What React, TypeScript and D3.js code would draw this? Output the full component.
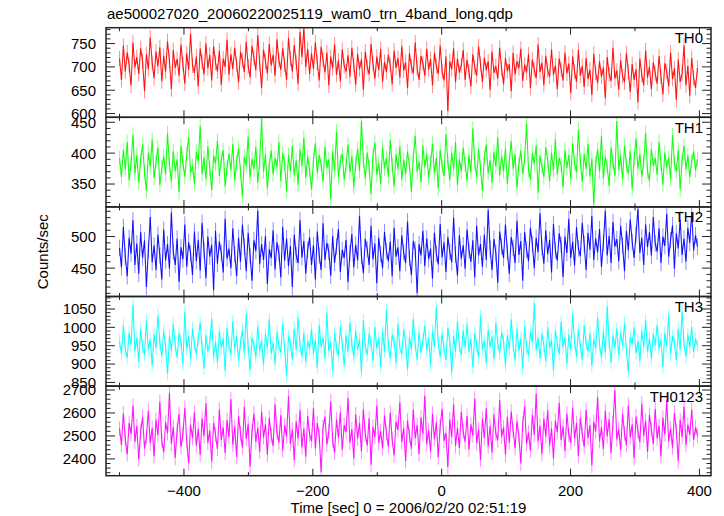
import React from "react";
import * as d3 from "d3";

const TITLE = "ae500027020_20060220025119_wam0_trn_4band_long.qdp";
const X_LABEL = "Time [sec] 0 = 2006/02/20 02:51:19";
const Y_LABEL = "Counts/sec";
const T_START = -500;
const T_BIN = 2.98;
const X_TICKS = [-400, -200, 0, 200, 400];

const TH0 = [
718, 672, 745, 690, 731, 704, 660, 752, 699, 721, 685, 740, 712, 648, 727, 695, 763, 708, 676, 733,
701, 742, 669, 724, 690, 755, 713, 652, 736, 698, 717, 681, 748, 706, 664, 729, 694, 771, 703, 687,
722, 658, 739, 711, 684, 750, 697, 726, 671, 744, 709, 690, 735, 662, 718, 700, 758, 683, 727, 695,
741, 706, 667, 732, 714, 689, 754, 701, 678, 745, 719, 693, 768, 708, 655, 737, 712, 686, 749, 703,
726, 681, 759, 714, 694, 740, 705, 672, 762, 718, 690, 747, 710, 664, 775, 721, 783, 700, 738, 685,
729, 696, 752, 709, 671, 743, 715, 688, 731, 660, 722, 697, 748, 683, 714, 669, 737, 702, 690, 725,
679, 741, 704, 662, 728, 695, 716, 651, 733, 700, 684, 749, 707, 675, 722, 693, 738, 668, 711, 689,
726, 704, 663, 735, 698, 719, 677, 744, 692, 710, 655, 729, 701, 686, 752, 697, 672, 723, 708, 681,
739, 694, 717, 660, 730, 702, 685, 746, 690, 671, 722, 605, 712, 695, 740, 667, 718, 688, 703, 736,
672, 715, 690, 658, 727, 699, 681, 744, 706, 668, 720, 693, 712, 650, 733, 687, 702, 675, 741, 696,
663, 719, 691, 706, 648, 730, 684, 712, 697, 739, 670, 705, 688, 727, 655, 716, 694, 676, 748, 689,
709, 661, 724, 692, 679, 737, 683, 703, 652, 718, 695, 671, 731, 686, 707, 644, 722, 690, 668, 736,
681, 702, 657, 719, 674, 694, 640, 728, 688, 665, 712, 679, 699, 633, 721, 684, 670, 741, 675, 692,
651, 714, 680, 667, 729, 689, 646, 706, 672, 695, 624, 718, 683, 661, 735, 677, 700, 652, 710, 686,
664, 723, 679, 641, 708, 690, 658, 731, 674, 697, 629, 716, 668, 685, 746, 661, 702, 638, 719, 676,
655, 698];

const TH1 = [
392, 361, 405, 374, 418, 356, 383, 430, 367, 397, 352, 388, 414, 370, 339, 401, 378, 422, 360, 386,
409, 348, 376, 395, 365, 432, 381, 354, 403, 371, 390, 337, 412, 384, 362, 398, 426, 368, 379, 351,
402, 387, 444, 366, 393, 358, 411, 375, 340, 396, 383, 420, 363, 389, 405, 346, 377, 399, 372, 415,
356, 385, 408, 369, 330, 394, 380, 427, 361, 391, 374, 410, 352, 386, 456, 370, 398, 343, 381, 404,
366, 392, 377, 418, 355, 400, 383, 338, 397, 371, 412, 364, 388, 349, 406, 379, 425, 360, 394, 373,
341, 389, 416, 368, 397, 382, 354, 410, 376, 390, 326, 403, 372, 435, 361, 386, 399, 357, 380, 414,
369, 395, 345, 383, 407, 371, 452, 388, 359, 401, 378, 334, 396, 417, 365, 384, 350, 409, 375, 392,
362, 421, 381, 346, 398, 374, 411, 357, 389, 366, 403, 380, 337, 394, 428, 370, 386, 353, 412, 377,
398, 360, 384, 415, 367, 392, 343, 405, 379, 363, 431, 387, 356, 400, 374, 418, 348, 390, 371, 409,
382, 355, 397, 369, 440, 385, 361, 406, 376, 339, 393, 414, 367, 389, 352, 402, 378, 426, 364, 395,
371, 408, 350, 387, 419, 375, 398, 344, 382, 404, 366, 391, 447, 373, 357, 400, 383, 412, 336, 396,
379, 361, 410, 388, 354, 401, 372, 423, 366, 392, 381, 345, 405, 376, 397, 358, 416, 384, 369, 438,
387, 353, 399, 374, 415, 362, 391, 317, 383, 406, 370, 428, 359, 394, 378, 347, 409, 385, 364, 452,
373, 396, 358, 412, 381, 367, 403, 342, 390, 424, 375, 399, 362, 386, 433, 371, 355, 407, 380, 392,
365, 418, 384, 349, 401, 377, 393, 358, 429, 383, 370, 405, 341, 389, 412, 374, 396, 361, 387, 403,
372, 390];

const TH2 = [
482, 451, 515, 468, 437, 498, 473, 526, 455, 489, 441, 507, 466, 494, 420, 478, 531, 459, 486, 447,
503, 470, 432, 511, 462, 488, 449, 538, 476, 455, 497, 428, 483, 464, 519, 452, 491, 473, 439, 508,
461, 495, 446, 522, 478, 434, 500, 468, 487, 415, 509, 457, 492, 474, 443, 528, 465, 481, 450, 513,
472, 437, 498, 460, 519, 484, 445, 506, 469, 430, 494, 477, 541, 456, 488, 463, 501, 425, 480, 466,
510, 448, 491, 474, 435, 515, 462, 497, 453, 485, 420, 503, 471, 458, 526, 467, 493, 441, 479, 499,
455, 486, 432, 508, 470, 447, 521, 463, 490, 476, 438, 501, 458, 484, 512, 444, 479, 466, 495, 428,
474, 504, 451, 487, 462, 533, 469, 442, 496, 480, 455, 517, 464, 489, 426, 498, 472, 450, 507, 477,
461, 492, 437, 514, 468, 483, 445, 502, 475, 458, 524, 466, 439, 493, 479, 410, 488, 470, 509, 453,
497, 464, 481, 433, 506, 473, 456, 520, 467, 491, 444, 499, 476, 459, 530, 471, 438, 502, 465, 486,
449, 511, 478, 460, 494, 435, 517, 470, 488, 452, 503, 463, 542, 481, 447, 496, 474, 427, 508, 484,
466, 519, 476, 441, 499, 482, 458, 525, 471, 493, 430, 507, 479, 461, 514, 488, 450, 498, 475, 537,
483, 457, 510, 472, 495, 443, 520, 478, 462, 505, 487, 436, 500, 474, 528, 466, 492, 454, 515, 481,
469, 522, 488, 447, 506, 479, 533, 463, 497, 475, 512, 452, 490, 541, 470, 501, 458, 523, 484, 496,
461, 517, 486, 445, 509, 478, 527, 492, 466, 503, 544, 474, 498, 455, 519, 483, 507, 470, 531, 489,
476, 513, 458, 500, 485, 536, 468, 494, 518, 449, 505, 481, 527, 471, 497, 460, 514, 490, 539, 478,
502, 484];

const TH3 = [
962, 928, 1005, 941, 917, 986, 953, 1061, 935, 972, 906, 994, 948, 925, 1018, 939, 967, 896, 981, 944,
1032, 958, 921, 990, 946, 873, 977, 936, 1009, 951, 918, 984, 962, 899, 1042, 940, 975, 913, 996, 955,
927, 968, 1013, 945, 888, 979, 934, 957, 1024, 921, 961, 904, 989, 943, 970, 882, 998, 951, 926, 1016,
939, 975, 910, 956, 993, 930, 1037, 948, 884, 971, 952, 919, 1003, 937, 965, 898, 982, 944, 1022, 929,
958, 901, 987, 949, 932, 1011, 942, 869, 976, 955, 913, 997, 938, 1028, 950, 921, 984, 906, 963, 941,
995, 928, 966, 890, 1007, 947, 973, 915, 1040, 936, 959, 881, 985, 945, 922, 1002, 951, 897, 978, 934,
1014, 954, 919, 991, 939, 968, 878, 1019, 946, 925, 983, 957, 908, 1001, 942, 971, 893, 988, 935, 1047,
949, 916, 980, 961, 903, 1010, 944, 927, 995, 958, 885, 974, 940, 1023, 953, 912, 986, 931, 966, 1004,
937, 972, 899, 990, 948, 1055, 957, 920, 983, 943, 911, 998, 962, 876, 977, 934, 1016, 950, 924, 991,
945, 1008, 933, 968, 892, 985, 951, 918, 1030, 939, 964, 902, 993, 947, 975, 914, 1012, 956, 929, 987,
962, 897, 979, 941, 1021, 952, 910, 996, 936, 969, 887, 1003, 945, 924, 988, 958, 1066, 938, 971, 915,
983, 950, 907, 1000, 943, 965, 882, 992, 954, 927, 1015, 946, 973, 901, 980, 939, 1035, 960, 921, 994,
948, 912, 1006, 957, 935, 984, 895, 969, 942, 1026, 953, 918, 989, 931, 1058, 961, 904, 978, 944, 997,
925, 986, 951, 1012, 938, 879, 974, 956, 1000, 929, 963, 908, 991, 947, 1019, 934, 970, 915, 982, 952,
1007, 941, 967, 893, 985, 949, 1032, 926, 976, 958, 911, 995, 939, 1044, 955, 921, 980, 945, 1001, 933,
968, 950];

const TH0123 = [
2532, 2461, 2598, 2487, 2420, 2556, 2509, 2631, 2474, 2543, 2398, 2517, 2582, 2445, 2496, 2610, 2468, 2535, 2412, 2571,
2503, 2649, 2481, 2429, 2560, 2512, 2688, 2466, 2539, 2404, 2527, 2595, 2452, 2508, 2622, 2476, 2381, 2549, 2490, 2603,
2458, 2531, 2417, 2576, 2499, 2642, 2470, 2524, 2389, 2557, 2505, 2443, 2615, 2483, 2537, 2426, 2569, 2496, 2660, 2462,
2541, 2408, 2586, 2511, 2449, 2627, 2487, 2553, 2366, 2520, 2598, 2474, 2535, 2431, 2606, 2493, 2551, 2418, 2579, 2502,
2456, 2638, 2515, 2472, 2590, 2437, 2546, 2497, 2673, 2465, 2528, 2395, 2564, 2489, 2612, 2451, 2533, 2410, 2587, 2506,
2478, 2621, 2445, 2556, 2500, 2342, 2538, 2584, 2463, 2519, 2650, 2482, 2427, 2571, 2494, 2603, 2439, 2548, 2517, 2665,
2471, 2530, 2402, 2594, 2488, 2557, 2433, 2616, 2507, 2459, 2577, 2375, 2540, 2496, 2632, 2468, 2521, 2446, 2589, 2513,
2454, 2601, 2485, 2415, 2562, 2526, 2647, 2473, 2534, 2391, 2568, 2501, 2444, 2615, 2490, 2548, 2420, 2581, 2509, 2676,
2463, 2525, 2432, 2597, 2486, 2559, 2407, 2544, 2618, 2479, 2513, 2365, 2572, 2495, 2638, 2457, 2536, 2448, 2605, 2518,
2474, 2587, 2441, 2550, 2502, 2663, 2468, 2529, 2396, 2576, 2491, 2621, 2455, 2543, 2427, 2594, 2510, 2481, 2656, 2497,
2537, 2418, 2583, 2471, 2606, 2523, 2447, 2564, 2499, 2380, 2552, 2629, 2466, 2515, 2436, 2591, 2504, 2685, 2476, 2545,
2422, 2575, 2498, 2612, 2459, 2533, 2401, 2567, 2516, 2644, 2482, 2541, 2435, 2598, 2505, 2470, 2624, 2488, 2556, 2413,
2579, 2508, 2452, 2613, 2491, 2547, 2371, 2562, 2520, 2668, 2477, 2538, 2443, 2609, 2499, 2573, 2426, 2555, 2700, 2485,
2529, 2439, 2596, 2512, 2461, 2634, 2494, 2551, 2403, 2585, 2518, 2473, 2641, 2501, 2566, 2430, 2592, 2527, 2465, 2617,
2489, 2544, 2411, 2580, 2507, 2655, 2476, 2532, 2449, 2601, 2521, 2390, 2570, 2496, 2628, 2460, 2549, 2505, 2614, 2483,
2538, 2501];

const PANEL_NAMES = ["TH0", "TH1", "TH2", "TH3", "TH0123"];
const PANEL_DATA = [TH0, TH1, TH2, TH3, TH0123];
const PANEL_ERR = [16, 12, 13, 18, 32];
const PANEL_COLORS = ["#ff0000", "#00ff00", "#0000ff", "#00ffff", "#ff00ff"];
const Y_DOMAINS: [number, number][] = [[592, 784], [313, 458], [405, 547], [840, 1084], [2327, 2717]];
const Y_MAJOR = [[600, 650, 700, 750], [350, 400, 450], [450, 500], [850, 900, 950, 1000, 1050], [2400, 2500, 2600, 2700]];
const Y_MINOR_STEP = [10, 10, 10, 10, 20];

const W = 724, H = 516;
const LEFT = 106, RIGHT = 711, TOP = 27.7, BOTTOM = 475.7;
const FONT = "'Liberation Sans', Arial, Helvetica, sans-serif";

export default function App() {
  const x = d3.scaleLinear().domain([-521, 418]).range([LEFT, RIGHT]);
  const ph = (BOTTOM - TOP) / PANEL_NAMES.length;
  const xMinor = d3.range(-500, 401, 100);
  const stroke = "#222";

  return (
    <svg width={W} height={H} style={{ position: "absolute", left: 0, top: 0, background: "#fff" }}
      fontFamily={FONT}>
      <defs>
        {PANEL_NAMES.map((n, k) => (
          <clipPath id={`clip${k}`} key={n}>
            <rect x={LEFT} y={TOP + k * ph} width={RIGHT - LEFT} height={ph} />
          </clipPath>
        ))}
      </defs>
      <text x={107} y={19} fontSize={15} fill="#000">{TITLE}</text>
      {PANEL_NAMES.map((name, k) => {
        const top = TOP + k * ph;
        const bot = top + ph;
        const y = d3.scaleLinear().domain(Y_DOMAINS[k]).range([bot, top]);
        const data = PANEL_DATA[k];
        const err = PANEL_ERR[k];
        const line = d3.line<number>()
          .x((_, i) => x(T_START + i * T_BIN))
          .y((v) => y(v));
        const errPath = data
          .map((v, i) => {
            const px = x(T_START + i * T_BIN);
            return `M${px},${y(v - err)}V${y(v + err)}`;
          })
          .join("");
        const [d0, d1] = Y_DOMAINS[k];
        const minors = d3.range(Math.ceil(d0 / Y_MINOR_STEP[k]) * Y_MINOR_STEP[k], d1, Y_MINOR_STEP[k])
          .filter((v) => !Y_MAJOR[k].includes(v));
        return (
          <g key={name}>
            <g clipPath={`url(#clip${k})`}>
              <path d={errPath} fill="none" stroke={PANEL_COLORS[k]} strokeOpacity={0.45} strokeWidth={1} />
              <path d={line(data) || ""} fill="none" stroke={PANEL_COLORS[k]} strokeOpacity={0.9} strokeWidth={1.1} />
            </g>
            {Y_MAJOR[k].map((v) => (
              <g key={"M" + v}>
                <line x1={LEFT} x2={LEFT + 9} y1={y(v)} y2={y(v)} stroke={stroke} strokeWidth={1} />
                <line x1={RIGHT} x2={RIGHT - 9} y1={y(v)} y2={y(v)} stroke={stroke} strokeWidth={1} />
                <text x={LEFT - 10} y={y(v)} dy="0.36em" textAnchor="end" fontSize={15} fill="#000">{v}</text>
              </g>
            ))}
            {minors.map((v) => (
              <g key={"m" + v}>
                <line x1={LEFT} x2={LEFT + 4.5} y1={y(v)} y2={y(v)} stroke={stroke} strokeWidth={1} />
                <line x1={RIGHT} x2={RIGHT - 4.5} y1={y(v)} y2={y(v)} stroke={stroke} strokeWidth={1} />
              </g>
            ))}
            {xMinor.map((t) => {
              const len = X_TICKS.includes(t) ? 7 : 3.5;
              return (
                <g key={"x" + t}>
                  <line x1={x(t)} x2={x(t)} y1={top} y2={top + len} stroke={stroke} strokeWidth={1} />
                  <line x1={x(t)} x2={x(t)} y1={bot} y2={bot - len} stroke={stroke} strokeWidth={1} />
                </g>
              );
            })}
            <rect x={LEFT} y={top} width={RIGHT - LEFT} height={ph} fill="none" stroke={stroke} strokeWidth={1.5} />
            <text x={703} y={top + 15.5} textAnchor="end" fontSize={15} fill="#000">{name}</text>
          </g>
        );
      })}
      {X_TICKS.map((t) => (
        <text key={t} x={x(t)} y={496} textAnchor="middle" fontSize={15} fill="#000">
          {t < 0 ? "\u2212" + Math.abs(t) : String(t)}
        </text>
      ))}
      <text x={(LEFT + RIGHT) / 2} y={513} textAnchor="middle" fontSize={15} fill="#000">{X_LABEL}</text>
      <text transform={`translate(48, ${(TOP + BOTTOM) / 2}) rotate(-90)`} textAnchor="middle" fontSize={15} fill="#000">
        {Y_LABEL}
      </text>
    </svg>
  );
}
